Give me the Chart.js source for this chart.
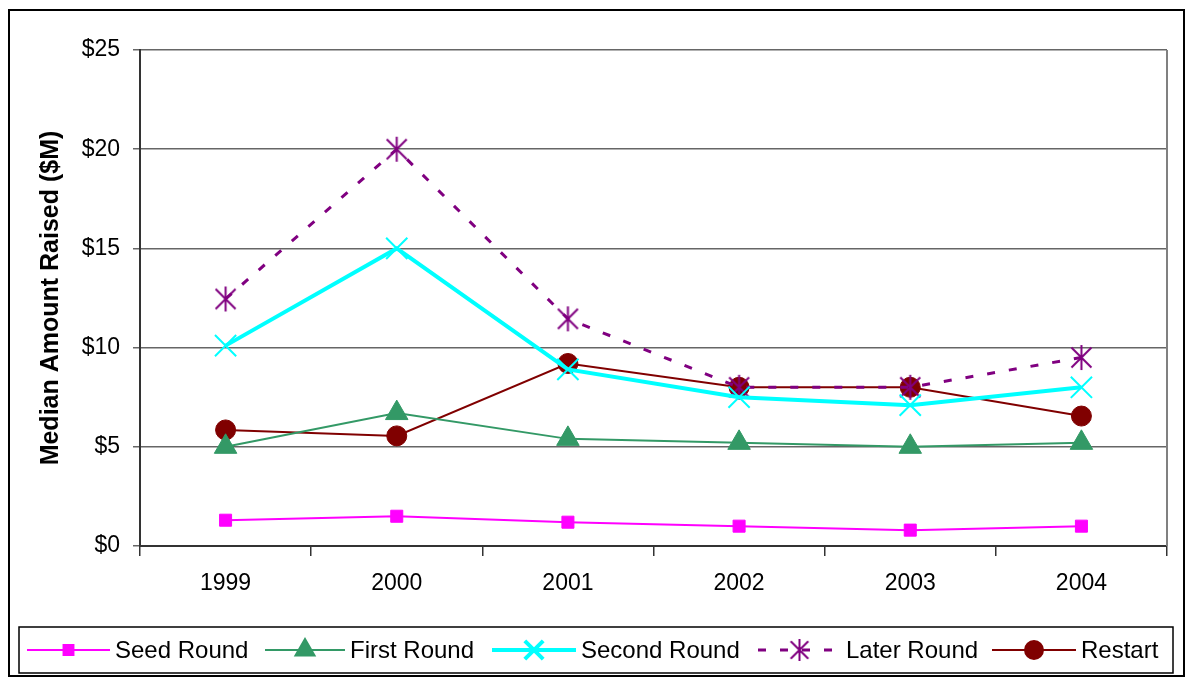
<!DOCTYPE html>
<html>
<head>
<meta charset="utf-8">
<script src="https://cdn.jsdelivr.net/npm/chart.js@4.4.1/dist/chart.umd.min.js"></script>
<style>
  body { margin: 0; background: #fff; }
  #wrap { width: 1188px; height: 677px; }
</style>
</head>
<body>
<div id="wrap"><canvas id="chart1" width="1188" height="677"></canvas></div>
<script>
// data ($M)
var years = ['1999', '2000', '2001', '2002', '2003', '2004'];
var seedRound = [1.3, 1.5, 1.2, 1.0, 0.8, 1.0];
var firstRound = [5.0, 6.7, 5.4, 5.2, 5.0, 5.2];
var secondRound = [10.1, 15.0, 8.9, 7.5, 7.1, 8.0];
var laterRound = [12.45, 20.0, 11.45, 8.0, 8.0, 9.5];
var restart = [5.85, 5.55, 9.2, 8.0, 8.0, 6.55];
var yTicks = [0, 5, 10, 15, 20, 25];

// asterisk marker (X plus a vertical stroke)
function makeStar(size, color) {
    var c = document.createElement('canvas');
    c.width = size; c.height = size;
    var g = c.getContext('2d');
    var h = size / 2, r = size / 2 - 1;
    g.strokeStyle = color;
    g.lineWidth = 2;
    g.beginPath();
    g.moveTo(h - r * 0.8, h - r * 0.8); g.lineTo(h + r * 0.8, h + r * 0.8);
    g.moveTo(h + r * 0.8, h - r * 0.8); g.lineTo(h - r * 0.8, h + r * 0.8);
    g.moveTo(h, h - r); g.lineTo(h, h + r);
    g.stroke();
    return c;
}
var starBig = makeStar(27, '#800080');
var starSmall = makeStar(24, '#800080');

var legendMarks = [
    { label: 'Seed Round', color: '#FF00FF', width: 2, dash: [], style: 'rect', radius: 7, x0: 27, x1: 110 },
    { label: 'First Round', color: '#339966', width: 2, dash: [], style: 'triangle', radius: 11, x0: 265, x1: 345 },
    { label: 'Second Round', color: '#00FFFF', width: 4, dash: [], style: 'crossRot', radius: 13, x0: 492, x1: 576 },
    { label: 'Later Round', color: '#800080', width: 3, dash: [8, 14], style: starSmall, radius: 10, x0: 758, x1: 841 },
    { label: 'Restart', color: '#800000', width: 2, dash: [], style: 'circle', radius: 9, x0: 992, x1: 1076 }
];

var framePlugin = {
    id: 'frame',
    afterDraw: function(chart) {
        var ctx = chart.ctx;
        var a = chart.chartArea;
        ctx.save();
        // right edge of plot area
        ctx.strokeStyle = '#808080';
        ctx.lineWidth = 2;
        ctx.beginPath();
        ctx.moveTo(a.right, a.top);
        ctx.lineTo(a.right, a.bottom);
        ctx.stroke();
        // outer frame
        ctx.strokeStyle = '#000';
        ctx.lineWidth = 2;
        ctx.strokeRect(9, 10, 1175, 666);
        // legend box
        ctx.lineWidth = 1.5;
        ctx.strokeRect(19, 627, 1154, 46);
        var cy = 650;
        ctx.font = '24px "Liberation Sans", Arial, sans-serif';
        ctx.textBaseline = 'middle';
        ctx.textAlign = 'left';
        legendMarks.forEach(function(m) {
            ctx.strokeStyle = m.color;
            ctx.lineWidth = m.width;
            ctx.setLineDash(m.dash);
            ctx.beginPath();
            ctx.moveTo(m.x0, cy);
            ctx.lineTo(m.x1, cy);
            ctx.stroke();
            ctx.setLineDash([]);
            ctx.fillStyle = m.color;
            ctx.strokeStyle = m.color;
            Chart.helpers.drawPoint(ctx, {
                pointStyle: m.style, radius: m.radius, borderWidth: m.style === 'crossRot' ? 2 : 1, rotation: 0
            }, (m.x0 + m.x1) / 2, cy);
            ctx.fillStyle = '#000';
            ctx.fillText(m.label, m.x1 + 5, cy + 1);
        });
        ctx.restore();
    }
};

var ctx1 = document.getElementById('chart1').getContext('2d');
var chart1 = new Chart(ctx1, {
    type: 'line',
    data: {
        labels: years,
        datasets: [
            { label: 'Seed Round', data: seedRound, borderColor: '#FF00FF', backgroundColor: '#FF00FF',
              borderWidth: 2, pointStyle: 'rect', pointRadius: 8.5, pointBorderWidth: 1 },
            { label: 'First Round', data: firstRound, borderColor: '#339966', backgroundColor: '#339966',
              borderWidth: 2, pointStyle: 'triangle', pointRadius: 13, pointBorderWidth: 1 },
            { label: 'Second Round', data: secondRound, borderColor: '#00FFFF', backgroundColor: '#00FFFF',
              borderWidth: 4, pointStyle: 'crossRot', pointRadius: 15, pointBorderWidth: 2 },
            { label: 'Later Round', data: laterRound, borderColor: '#800080', backgroundColor: '#800080',
              borderWidth: 3, borderDash: [8, 14], pointStyle: starBig, pointRadius: 13 },
            { label: 'Restart', data: restart, borderColor: '#800000', backgroundColor: '#800000',
              borderWidth: 2, pointStyle: 'circle', pointRadius: 10, pointBorderWidth: 1 }
        ]
    },
    options: {
        responsive: false,
        animation: false,
        layout: { padding: { left: 0, top: 50, right: 21, bottom: 71 } },
        plugins: { legend: { display: false }, tooltip: { enabled: false } },
        elements: { line: { tension: 0 } },
        scales: {
            x: {
                offset: true,
                grid: { offset: true, drawOnChartArea: false, tickLength: 10, color: '#333', lineWidth: 1.5 },
                border: { color: '#333', width: 2 },
                ticks: { color: '#000', padding: 14, font: { family: '"Liberation Sans", Arial', size: 23 } },
                afterFit: function(s) { s.height = 60; }
            },
            y: {
                min: 0, max: 25,
                afterBuildTicks: function(s) { s.ticks = yTicks.map(function(v) { return { value: v }; }); },
                grid: { color: '#666', lineWidth: 1.5, tickLength: 7 },
                border: { color: '#333', width: 2 },
                ticks: {
                    color: '#000', padding: 13,
                    font: { family: '"Liberation Sans", Arial', size: 23 },
                    callback: function(v) { return '$' + v; }
                },
                title: {
                    display: true, text: 'Median Amount Raised ($M)', color: '#000',
                    padding: { top: 36, bottom: 0 },
                    font: { family: '"Liberation Sans", Arial', size: 25, weight: 'bold' }
                },
                afterFit: function(s) { s.width = 140; }
            }
        }
    },
    plugins: [framePlugin]
});
</script>
</body>
</html>
